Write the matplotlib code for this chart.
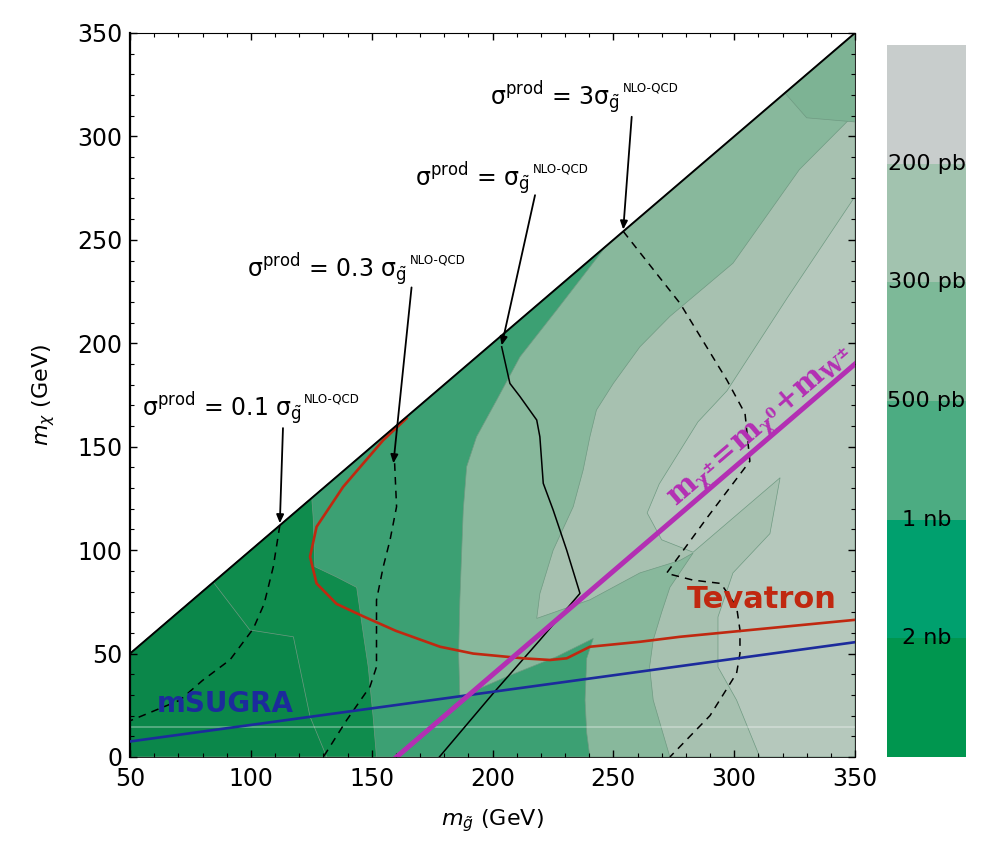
import numpy as np
import matplotlib as mpl
import matplotlib.pyplot as plt
from matplotlib.colors import ListedColormap, BoundaryNorm
from matplotlib.ticker import MultipleLocator

plt.rcParams['font.family'] = ['DejaVu Sans']

# ---- values: x = m_gluino, y = m_chi (GeV) ----
# cross-section regions, painted lightest first (each one covers the darker-level area)
xLow = [50, 350, 350, 50]
yLow = [0, 0, 350, 50]
x200 = [50, 310.6, 301, 293.3, 293.3, 299.5, 314.8, 319, 283, 270, 264, 269, 285, 297, 322, 350, 350, 50]
y200 = [0, 0, 27.5, 43.5, 67.7, 89, 108, 135, 99, 105, 118, 132, 162, 177, 222, 271, 350, 50]
x300 = [50, 273.4, 266.5, 265, 266.5, 270, 273.4, 283, 277.5, 261, 240.3, 218.3, 219.6, 225.1,
        233.4, 237.5, 240.3, 243, 250, 261, 273.4, 299.5, 327, 350, 350, 50]
y300 = [0, 0, 27.5, 43.6, 56.5, 70, 82, 98.6, 95, 89, 76, 67, 79, 100,
        121, 138.7, 154.8, 167.7, 180.6, 198.3, 213, 238.7, 284, 311, 350, 50]
xPatch = [321, 330, 350, 350]
yPatch = [321, 309, 307, 350]
x1nb = [50, 240.3, 239, 238.3, 239, 241.7, 226.5, 205.8, 186.5, 186, 186.5, 187.9, 189.3,
        193.4, 201.7, 211.4, 226.5, 247, 50]
y1nb = [0, 0, 11.6, 27.5, 47.7, 57.3, 48.5, 38.8, 29, 50, 76, 119.4, 140.3,
        154.8, 172.5, 193.5, 216, 247, 50]
x2nb = [50, 152, 150.6, 148.6, 146.5, 143.8, 135.5, 126.5, 125.8, 125.2, 50]
y2nb = [0, 0, 19.5, 43.5, 60, 82, 87, 92, 116, 125.2, 50]
xCore = [50, 131.4, 124.5, 117.6, 99.6, 84.5, 50]
yCore = [0, 0, 19.5, 58.1, 61.4, 84.5, 50]

regionX = [xLow, x200, x300, xPatch, x1nb, x2nb, xCore]
regionY = [yLow, y200, y300, yPatch, y1nb, y2nb, yCore]
regionColors = ['#b5c8bc', '#a7c1b0', '#88b89c', '#7db394', '#3ca073', '#0f8c4d', '#0b874a']

# sigma_prod contours
x01 = [112, 109.3, 105.5, 101, 91.4, 80, 70.7, 50]
y01 = [112, 92, 74, 62, 47, 37, 27.5, 17.5]
x03 = [159.5, 160.3, 157.6, 154.8, 152, 152, 152, 149.3, 139.7, 130]
y03 = [142, 121, 104.9, 92, 75.9, 59.8, 43.6, 34, 17.9, 0]
x1 = [203.8, 207.2, 211.4, 218.3, 219.6, 221, 225.1, 230.7, 236.2, 219.6, 200.3, 178]
y1 = [198.3, 180.6, 174.2, 162.9, 154.8, 132.3, 119.4, 100, 79.1, 56.5, 30.8, 0]
x3 = [254.1, 277.6, 297, 304.5, 306.5, 289, 272, 283, 294.5, 301, 302.4, 302.4, 301, 290, 273.4]
y3 = [254.1, 219.3, 182.2, 166, 143, 116, 88.8, 85.5, 83.9, 72.6, 61.4, 50, 40.5, 20, 0]

# limit lines
xTev = [164.4, 154.8, 138.2, 127.2, 124.5, 127.2, 135.5, 146.5, 160, 178.3, 192, 212.7,
        223.8, 230.7, 236.2, 240.3, 261, 277.5, 350]
yTev = [163.7, 153.2, 130.6, 111.3, 96.8, 83.9, 74, 68, 61, 53.3, 50, 47.7,
        46.9, 47.7, 50.9, 53.3, 55.7, 58.1, 66.3]
xSugra = [50, 350]
ySugra = [7.5, 55.5]
xW = [160.3, 350]
yW = [0, 190]

# labels: factor text, text position, arrow start, arrow tip
factors = ['0.1 ', '0.3 ', '', '3']
textPos = [(54.8, 168), (98.3, 235.4), (167.9, 279), (198.9, 318.5)]
arrowFrom = [(113.3, 159), (166.5, 227), (217.6, 271.6), (257.6, 309.5)]
arrowTo = [(112, 113), (159, 142), (203.8, 199), (254.1, 255)]

# colour bar
cbColors = ['#00964f', '#00a06e', '#4cac82', '#7db998', '#a2c3af', '#c8cdcc']
cbLabels = ['2 nb', '1 nb', '500 pb', '300 pb', '200 pb']


fig = plt.figure(figsize=(9.82, 8.41), dpi=100)
ax = fig.add_axes([130/982, 84/841, 725/982, 724/841])

for xs, ys, c in zip(regionX, regionY, regionColors):
    ax.fill(xs, ys, facecolor=c, edgecolor='#6f9a82', linewidth=0.5, zorder=1)

ax.plot([50, 350], [14.5, 14.5], color='white', alpha=0.35, lw=1.2, zorder=2)

for xs, ys in [(x01, y01), (x03, y03), (x3, y3)]:
    ax.plot(xs, ys, color='k', lw=1.1, linestyle=(0, (5, 4)), zorder=3)
ax.plot(x1, y1, color='k', lw=1.1, zorder=3)

ax.plot(xSugra, ySugra, color='#1c2b9c', lw=1.9, zorder=4)
ax.plot(xTev, yTev, color='#c02810', lw=1.9, zorder=5)
ax.plot(xW, yW, color='#b32fb3', lw=3.6, zorder=6)
ax.plot([50, 350], [50, 350], color='k', lw=1.4, zorder=7)

ax.text(61.2, 25.6, 'mSUGRA', color='#1c2b9c', fontsize=20, fontweight='bold',
        va='center', ha='left', zorder=8)
ax.text(280.4, 75.9, 'Tevatron', color='#c02810', fontsize=22, fontweight='bold',
        va='center', ha='left', zorder=8)
ax.text(311, 159.5, r'$\mathbf{m_{\chi^{\pm}}\!=\!m_{\chi^{0}}\!+\!m_{W^{\pm}}}$',
        color='#b32fb3', fontsize=21, rotation=40.6, rotation_mode='anchor',
        ha='center', va='center', math_fontfamily='dejavuserif', zorder=8)

for f, (tx, ty), a0, a1 in zip(factors, textPos, arrowFrom, arrowTo):
    t = ax.text(tx, ty, 'σ$^{\\mathrm{prod}}$ = ' + f + 'σ$_{\\tilde{\\mathrm{g}}}$',
                fontsize=17, va='center', ha='left', zorder=8)
    ax.annotate('NLO-QCD', xy=(1.0, 0.78), xycoords=t, xytext=(2, 0),
                textcoords='offset points', fontsize=8.5, ha='left', va='center')
    ax.annotate('', xy=a1, xytext=a0, zorder=8,
                arrowprops=dict(arrowstyle='-|>,head_length=0.5,head_width=0.22',
                                color='k', lw=1.3, shrinkA=0, shrinkB=0))

ax.set_xlim(50, 350)
ax.set_ylim(0, 350)
ax.set_xticks(np.arange(50, 351, 50))
ax.set_yticks(np.arange(0, 351, 50))
ax.xaxis.set_minor_locator(MultipleLocator(10))
ax.yaxis.set_minor_locator(MultipleLocator(10))
ax.tick_params(which='both', direction='in', top=True, right=True, labelsize=17, pad=5.5)
ax.tick_params(axis='x', which='both', pad=7.5)
ax.tick_params(which='major', length=5, width=1)
ax.tick_params(which='minor', length=3, width=0.8)
for side, lw in [('left', 1.6), ('top', 0.8), ('right', 0.6), ('bottom', 0.6)]:
    ax.spines[side].set_linewidth(lw)

ax.set_xlabel(r'$m_{\tilde{g}}$ (GeV)', fontsize=16)
ax.set_ylabel(r'$m_{\chi}$ (GeV)', fontsize=16)
ax.xaxis.set_label_coords(0.5, -0.07)
ax.yaxis.set_label_coords(-0.10, 0.5)

cax = fig.add_axes([887/982, 84/841, 79/982, 712/841])
cmap = ListedColormap(cbColors)
norm = BoundaryNorm(np.arange(len(cbColors) + 1), cmap.N)
cb = fig.colorbar(mpl.cm.ScalarMappable(norm=norm, cmap=cmap), cax=cax)
cb.outline.set_visible(False)
cb.set_ticks([])
cb.minorticks_off()
cax.tick_params(which='both', length=0, labelright=False)
for i, lab in enumerate(cbLabels):
    cax.text(0.5, (i + 1) / len(cbColors), lab, transform=cax.transAxes,
             ha='center', va='center', fontsize=16)

fig.savefig('out.png', dpi=100)
